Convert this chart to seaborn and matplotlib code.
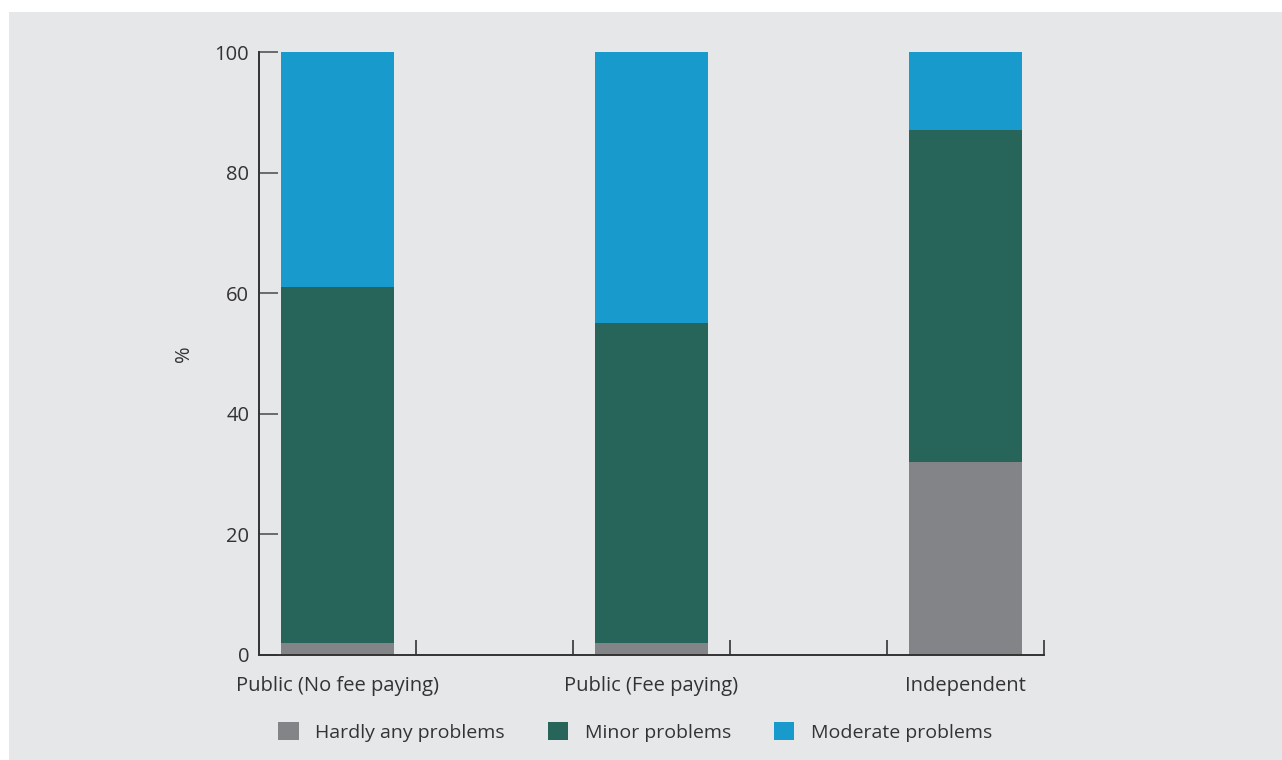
import numpy as np
import pandas as pd
import matplotlib
matplotlib.use("Agg")
import matplotlib.pyplot as plt
from matplotlib.patches import Rectangle
import seaborn as sns

# data (% of respondents)
schools = ["Public (No fee paying)", "Public (Fee paying)", "Independent"]
hardly_any = [2, 2, 32]
minor = [59, 53, 55]
moderate = [39, 45, 13]
series_names = ["Hardly any problems", "Minor problems", "Moderate problems"]

colors = ["#838487", "#27645a", "#199acc"]
bg = "#e6e7e9"
txt = "#333333"
fs = 14.5

sns.set_style("ticks")
plt.rcParams["font.family"] = ["Open Sans", "DejaVu Sans"]

df = pd.DataFrame({"school": schools, "hardly": hardly_any, "minor": minor, "moderate": moderate})
df["pos"] = np.arange(len(df)) * 2
df["c1"] = df["hardly"]
df["c2"] = df["c1"] + df["minor"]
df["c3"] = df["c2"] + df["moderate"]

fig = plt.figure(figsize=(12.82, 7.6), dpi=100, facecolor="white")
fig.patches.append(Rectangle((9 / 1282, 0), 1, 1 - 12 / 760, transform=fig.transFigure,
                             facecolor=bg, edgecolor="none", zorder=-10))
ax = fig.add_axes([259 / 1282, 1 - 655 / 760, (1044 - 259) / 1282, (655 - 52) / 760])
ax.set_facecolor(bg)

# stacked bars: draw cumulative totals back to front
for col, c in zip(["c3", "c2", "c1"], colors[::-1]):
    sns.barplot(data=df, x="pos", y=col, native_scale=True, color=c, width=0.36,
                saturation=1, ax=ax, linewidth=0)

ax.set_xlim(-0.5, 4.5)
ax.set_ylim(0, 100)
ax.set_yticks([0, 20, 40, 60, 80, 100])
ax.set_xticks(df["pos"])
ax.set_xticklabels(schools)
ax.set_xticks(np.arange(0.5, 5, 1), minor=True)
ax.set_xlabel("")
ax.set_ylabel("%", fontsize=fs, color=txt, labelpad=15)

sns.despine(ax=ax)
for s in ["left", "bottom"]:
    ax.spines[s].set_linewidth(1.4)
    ax.spines[s].set_color("#333333")

ax.tick_params(axis="x", which="major", length=0, pad=15, labelsize=fs, labelcolor=txt)
ax.tick_params(axis="x", which="minor", direction="in", length=11, width=1.2, color="#333333")
ax.tick_params(axis="y", direction="in", length=14, width=1.2, color="#555555",
               pad=7, labelsize=fs, labelcolor=txt)

handles = [Rectangle((0, 0), 1, 1, facecolor=c, edgecolor="none") for c in colors]
fig.legend(handles, series_names, loc="center", bbox_to_anchor=(635 / 1282, 1 - 732 / 760),
           ncol=3, frameon=False, fontsize=14, handlelength=1.05, handleheight=1.05,
           handletextpad=0.85, columnspacing=2.2, labelcolor=txt)

fig.savefig("out.png", dpi=100, facecolor="white")
